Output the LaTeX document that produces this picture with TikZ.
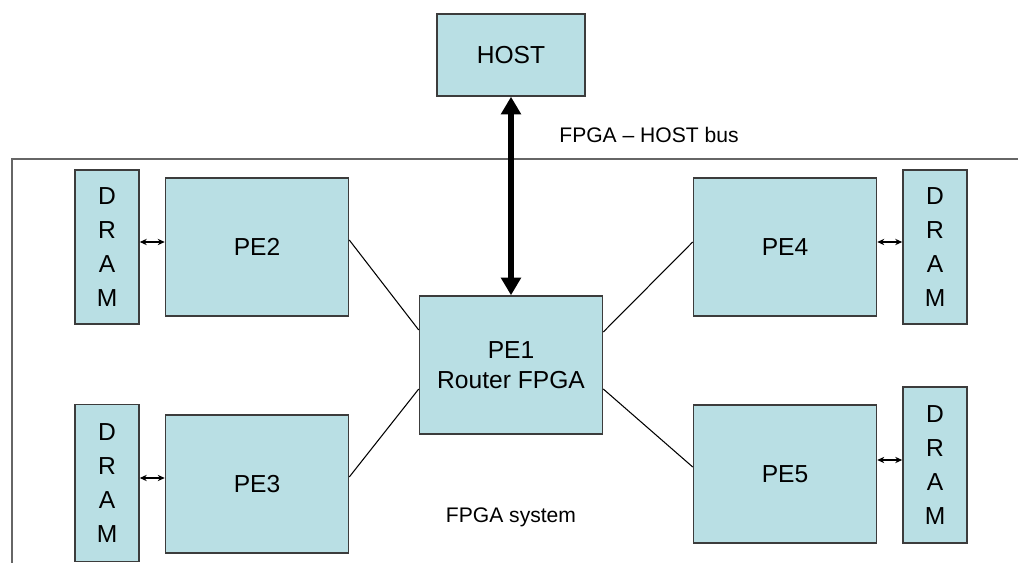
\documentclass[tikz,border=0pt]{standalone}
\usepackage{fontspec}
\setmainfont{Liberation Sans}
\usetikzlibrary{arrows.meta}
\definecolor{boxfill}{RGB}{185,223,228}
\definecolor{boxline}{RGB}{60,60,60}
\tikzset{
  unit/.style={draw=boxline, line width=0.9pt, fill=boxfill, inner sep=0pt,
    font=\fontsize{14}{17}\selectfont, align=center},
  dram/.style={unit, minimum width=1.28cm, minimum height=3.08cm,
    font=\fontsize{14}{19.3}\selectfont},
  pe/.style={unit, minimum width=3.66cm, minimum height=2.76cm},
  memlink/.style={{Stealth[length=4pt,width=3.6pt]}-{Stealth[length=4pt,width=3.6pt]}, line width=0.8pt},
  pelink/.style={line width=0.6pt},
  caption/.style={font=\fontsize{12}{14}\selectfont}
}
\begin{document}
\begin{tikzpicture}[x=0.02cm, y=-0.02cm]
				  \useasboundingbox (0,0) rectangle (1018,563);
				  % system outline
				  \draw[line width=0.7pt, color=black!60] (12,563) -- (12,159) -- (1018,159);
				  \node[unit, minimum width=2.96cm, minimum height=1.64cm] (host) at (511,55) {HOST};
				  \node[pe] (pe1) at (511,365) {PE1\\Router FPGA};
				  \node[pe] (pe2) at (257,247) {PE2};
				  \node[pe] (pe3) at (257,484) {PE3};
				  \node[pe] (pe4) at (785,247) {PE4};
				  \node[pe] (pe5) at (785,474) {PE5};
				  \node[dram] (dram2) at (107,247) {D\\R\\A\\M};
				  \node[dram, minimum height=3.14cm] (dram3) at (107,483) {D\\R\\A\\M};
				  \node[dram] (dram4) at (935,247) {D\\R\\A\\M};
				  \node[dram, minimum height=3.12cm] (dram5) at (935,465) {D\\R\\A\\M};
				  % host bus
				  \draw[{Triangle[length=10pt,width=11pt]}-{Triangle[length=10pt,width=11pt]}, line width=3.2pt] (host) -- (pe1);
				  \node[caption] (buslabel) at (649,135) {FPGA -- HOST bus};
				  \node[caption] (syslabel) at (511,517) {FPGA system};
				  % memory links
				  \draw[memlink] (dram2.east |- 0,242) -- (pe2.west |- 0,242);
				  \draw[memlink] (dram3.east |- 0,478) -- (pe3.west |- 0,478);
				  \draw[memlink] (pe4.east |- 0,242) -- (dram4.west |- 0,242);
				  \draw[memlink] (pe5.east |- 0,460) -- (dram5.west |- 0,460);
				  % router links
				  \draw[pelink] (pe2.east |- 0,240) -- (pe1.west |- 0,330);
				  \draw[pelink] (pe3.east |- 0,477) -- (pe1.west |- 0,389);
				  \draw[pelink] (pe4.west |- 0,242) -- (pe1.east |- 0,332);
				  \draw[pelink] (pe5.west |- 0,467) -- (pe1.east |- 0,389);
				\end{tikzpicture}
\end{document}
